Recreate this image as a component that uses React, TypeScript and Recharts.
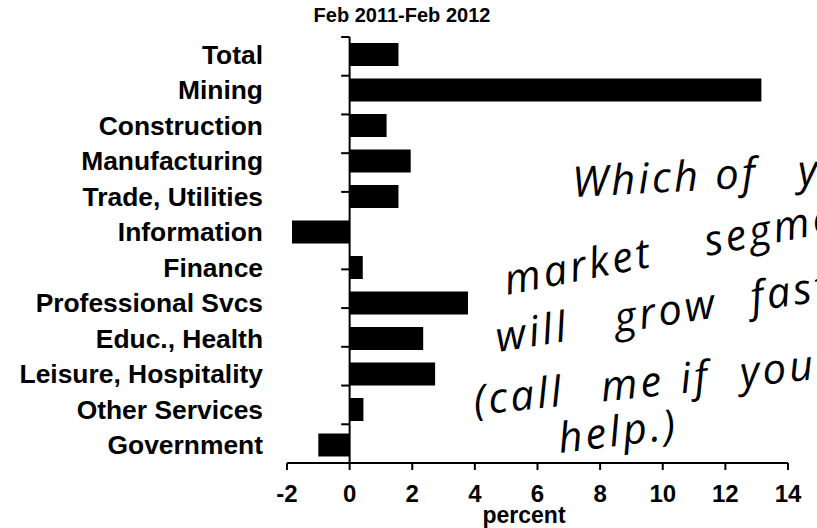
import React from "react";
import { BarChart, Bar, XAxis, YAxis, ReferenceLine } from "recharts";

const categories = [
  "Total",
  "Mining",
  "Construction",
  "Manufacturing",
  "Trade, Utilities",
  "Information",
  "Finance",
  "Professional Svcs",
  "Educ., Health",
  "Leisure, Hospitality",
  "Other Services",
  "Government",
];
const changes = [1.56, 13.15, 1.18, 1.95, 1.56, -1.84, 0.42, 3.78, 2.35, 2.73, 0.44, -1.0];
const xTicks = [-2, 0, 2, 4, 6, 8, 10, 12, 14];
const boundaryTicks = [0, 1, 2, 3, 4, 5, 6, 7, 8, 9, 10, 11];

const subtitle = "Feb 2011-Feb 2012";
const axisTitle = "percent";

const noteLines = [
  { x: 573, y: 197, angle: -3, words: [["Which", 0], ["of", 143], ["your", 226]] },
  { x: 507, y: 295, angle: -11, words: [["market", 0], ["segments", 204]] },
  { x: 498, y: 352, angle: -9, words: [["will", 0], ["grow", 120], ["fastest?", 258]] },
  { x: 475, y: 415, angle: -6, words: [["(call", 0], ["me", 128], ["if", 208], ["you", 268], ["need", 370]] },
  { x: 560, y: 453, angle: -7, words: [["help.)", 0]] },
];

const data = categories.map((name, i) => ({ name, value: changes[i] }));

const FONT = "'Liberation Sans', Arial, Helvetica, sans-serif";

const CatTick = (props: any) => (
  <text
    x={263}
    y={props.y}
    dy="0.35em"
    textAnchor="end"
    fontFamily={FONT}
    fontWeight={700}
    fontSize={26.4}
    fill="#000"
  >
    {props.payload.value}
  </text>
);

export default function App() {
  return (
    <div style={{ position: "absolute", left: 0, top: 0, width: 817, height: 528, background: "#fff" }}>
      <BarChart
        width={817}
        height={528}
        data={data}
        layout="vertical"
        margin={{ top: 37, right: 29, bottom: 35, left: 87 }}
        barCategoryGap="36%"
      >
        <XAxis
          type="number"
          domain={[-2, 14]}
          ticks={xTicks}
          interval={0}
          height={30}
          axisLine={{ stroke: "#000", strokeWidth: 2 }}
          tickLine={{ stroke: "#000", strokeWidth: 2 }}
          tickSize={7}
          tickMargin={15}
          tick={{ fill: "#000", fontSize: 24, fontWeight: 700, fontFamily: FONT }}
          allowDataOverflow
        />
        <YAxis
          type="category"
          dataKey="name"
          width={200}
          axisLine={false}
          tickLine={false}
          tick={<CatTick />}
          interval={0}
        />
        <YAxis yAxisId="b" type="number" domain={[0, 12]} reversed hide />
        <Bar dataKey="value" fill="#000" barSize={23} isAnimationActive={false} />
        <ReferenceLine x={0} stroke="#000" strokeWidth={2} />
        {boundaryTicks.map((k) => (
          <ReferenceLine
            key={k}
            yAxisId="b"
            segment={[
              { x: -0.27, y: k },
              { x: 0, y: k },
            ]}
            stroke="#000"
            strokeWidth={2}
          />
        ))}
      </BarChart>
      <svg
        width={817}
        height={528}
        style={{ position: "absolute", left: 0, top: 0, pointerEvents: "none" }}
      >
        <text x={402} y={22} textAnchor="middle" fontFamily={FONT} fontWeight={700} fontSize={20} fill="#000">
          {subtitle}
        </text>
        <text x={524} y={523} textAnchor="middle" fontFamily={FONT} fontWeight={700} fontSize={23} fill="#000">
          {axisTitle}
        </text>
        {noteLines.map((ln, i) => (
          <text
            key={i}
            transform={`translate(${ln.x},${ln.y}) rotate(${ln.angle})`}
            fontFamily="'Open Sans', sans-serif"
            fontStyle="italic"
            fontWeight={400}
            fontSize={42}
            letterSpacing={3}
            fill="#000"
          >
            {ln.words.map(([w, d], j) => (
              <tspan key={j} x={d as number} y={0}>
                {w}
              </tspan>
            ))}
          </text>
        ))}
      </svg>
    </div>
  );
}
